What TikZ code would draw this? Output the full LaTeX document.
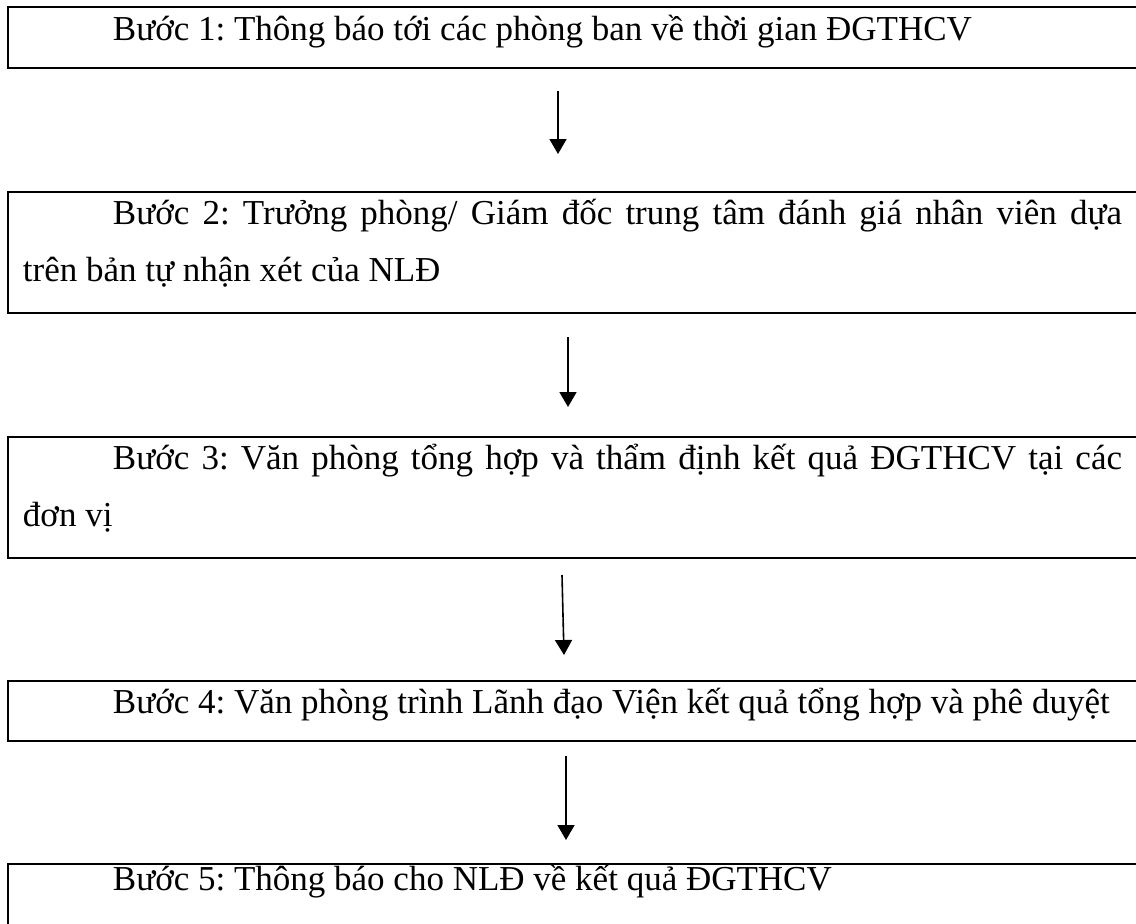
\documentclass[tikz,border=0pt]{standalone}
\usepackage{fontspec}
\setmainfont{Liberation Serif}
\usepackage{tikz}
\usetikzlibrary{arrows.meta, positioning}

\begin{document}
\begin{tikzpicture}[x=1pt, y=-1pt,
  stepbox/.style={rectangle, draw=black, line width=2.5pt, anchor=north west,
    inner xsep=15pt, inner ysep=0pt, outer sep=0pt, text width=1099pt,
    align=justify, font=\fontsize{35}{57}\selectfont\frenchspacing},
  arr/.style={-{Triangle[width=17pt, length=15pt]}, line width=1.6pt}
]
  \useasboundingbox (0,0) rectangle (1136,924);
  \clip (0,0) rectangle (1136,924);

  \node[stepbox, text height=33pt, text depth=28pt]  (b1) at (8,7)
    {\hspace*{90pt}Bước 1: Thông báo tới các phòng ban về thời gian ĐGTHCV};
  \node[stepbox, text height=32pt, text depth=89pt]  (b2) at (8,192)
    {\hspace*{90pt}Bước 2: Trưởng phòng/ Giám đốc trung tâm đánh giá nhân viên dựa\linebreak trên bản tự nhận xét của NLĐ};
  \node[stepbox, text height=32pt, text depth=89pt]  (b3) at (8,437)
    {\hspace*{90pt}Bước 3: Văn phòng tổng hợp và thẩm định kết quả ĐGTHCV tại các\linebreak đơn vị};
  \node[stepbox, text height=32pt, text depth=28pt]  (b4) at (8,681)
    {\hspace*{90pt}Bước 4: Văn phòng trình Lãnh đạo Viện kết quả tổng hợp và phê duyệt};
  \node[stepbox, text height=26pt, text depth=100pt] (b5) at (8,864)
    {\hspace*{90pt}Bước 5: Thông báo cho NLĐ về kết quả ĐGTHCV};

  \coordinate (a1s) at (558,91);
  \coordinate (a1e) at (558,154);
  \coordinate (a2s) at (568,337);
  \coordinate (a2e) at (568,407);
  \coordinate (a3s) at (562,575);
  \coordinate (a3e) at (564,655);
  \coordinate (a4s) at (566,756);
  \coordinate (a4e) at (566,840);

  \draw[arr] (a1s) -- (a1e);
  \draw[arr] (a2s) -- (a2e);
  \draw[arr] (a3s) -- (a3e);
  \draw[arr] (a4s) -- (a4e);
\end{tikzpicture}
\end{document}
